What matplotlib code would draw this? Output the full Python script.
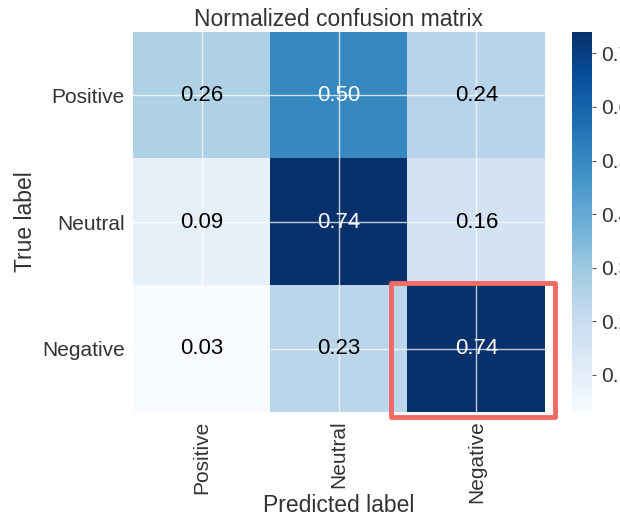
import numpy as np
import matplotlib
matplotlib.use("Agg")
import matplotlib.pyplot as plt
import matplotlib.patches as mpatches

plt.rcParams['font.family'] = ['Liberation Sans', 'DejaVu Sans']

classes = ['Positive', 'Neutral', 'Negative']
cm_row_positive = [0.26, 0.50, 0.24]
cm_row_neutral = [0.09, 0.74, 0.16]
cm_row_negative = [0.03, 0.23, 0.74]
cbar_ticks = [0.1, 0.2, 0.3, 0.4, 0.5, 0.6, 0.7]

cm = np.array([cm_row_positive, cm_row_neutral, cm_row_negative])
label_color = '#333333'

fig = plt.figure(figsize=(6.2, 5.17), dpi=100)
ax = fig.add_axes([0.2145, 0.203, 0.6645, 0.735])
cax = fig.add_axes([0.9226, 0.203, 0.032, 0.735])

im = ax.imshow(cm, interpolation='nearest', cmap=plt.cm.Blues, aspect='auto')
ax.set_title('Normalized confusion matrix', fontsize=16.5, color=label_color, pad=4)

cb = fig.colorbar(im, cax=cax, ticks=cbar_ticks)
cb.outline.set_visible(False)
cb.ax.tick_params(labelsize=15, length=3, width=0.8, colors='#555555', labelcolor=label_color)

ax.set_xticks(np.arange(len(classes)))
ax.set_yticks(np.arange(len(classes)))
ax.set_xticklabels(classes, rotation=90)
ax.set_yticklabels(classes)
ax.tick_params(axis='x', length=0, labelsize=15, labelcolor=label_color, pad=6)
ax.tick_params(axis='y', length=0, labelsize=15, labelcolor=label_color, pad=6)

# grid sits over the image like seaborn darkgrid
ax.grid(True, color='white', linewidth=1, alpha=0.75)
ax.set_axisbelow(True)
for s in ax.spines.values():
    s.set_visible(False)

thresh = cm.max() / 2.
for i in range(cm.shape[0]):
    for j in range(cm.shape[1]):
        ax.text(j, i, format(cm[i, j], '.2f'),
                ha='center', va='center', fontsize=16,
                color='white' if cm[i, j] > thresh else 'black')

ax.set_ylabel('True label', fontsize=16.5, color=label_color)
ax.set_xlabel('Predicted label', fontsize=16.5, color=label_color)
ax.yaxis.set_label_coords(-0.233, 0.5)
ax.xaxis.set_label_coords(0.5, -0.215)

# highlight box around the Negative/Negative cell
rect = mpatches.Rectangle((1.38, 1.48), 1.19, 1.06, fill=False,
                          edgecolor='#f26b63', linewidth=3.5, clip_on=False,
                          joinstyle='round', zorder=5)
ax.add_patch(rect)

fig.savefig('out.png', dpi=100)
